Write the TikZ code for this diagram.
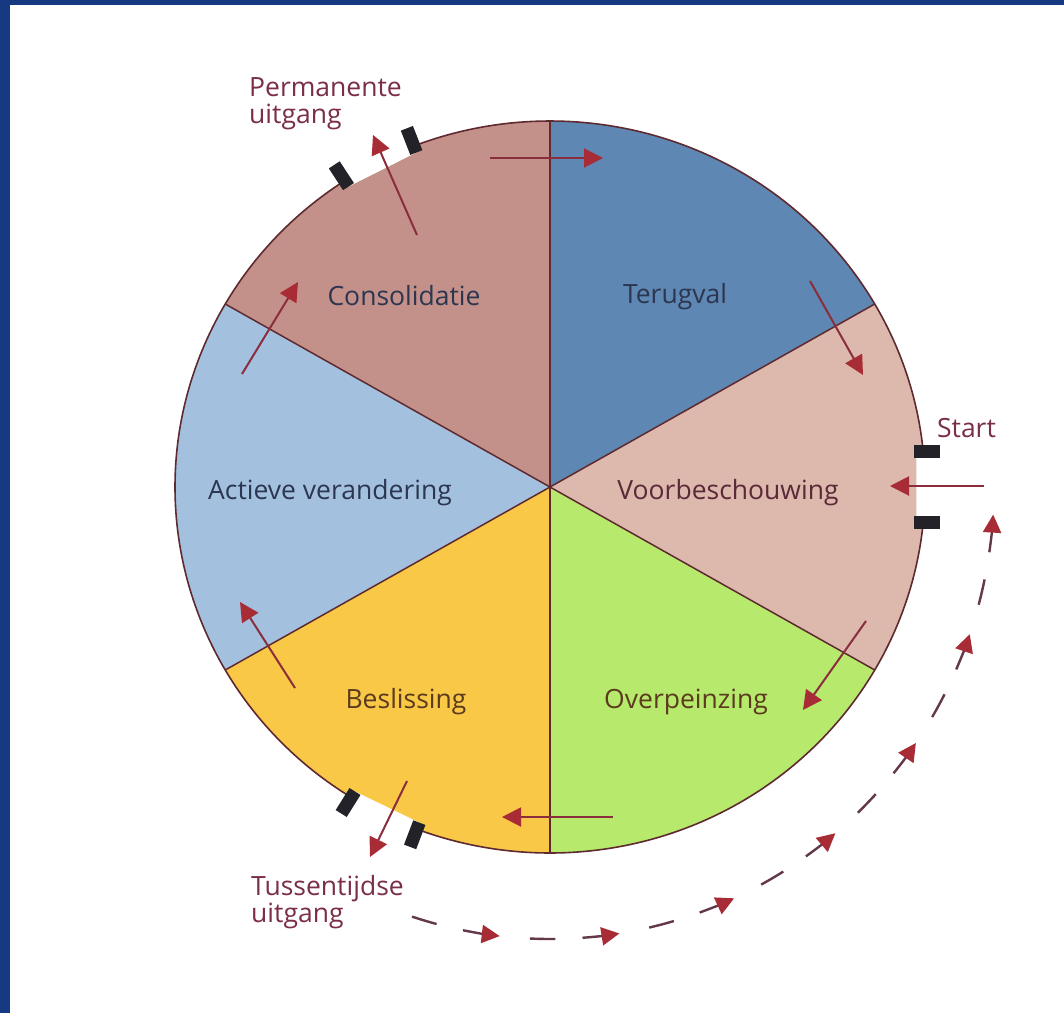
\documentclass[tikz,border=0pt]{standalone}
\usepackage{fontspec}
\setmainfont{Open Sans}
\usetikzlibrary{arrows.meta,calc}

\definecolor{framecol}{HTML}{163A82}
\definecolor{rimcol}{HTML}{5E2A30}
\definecolor{flowline}{HTML}{8A2D3C}
\definecolor{flowhead}{HTML}{A82C36}
\definecolor{dashcol}{HTML}{63384A}
\definecolor{gatecol}{HTML}{222228}
\definecolor{terugcol}{HTML}{5E87B3}
\definecolor{voorcol}{HTML}{DCB8AD}
\definecolor{overcol}{HTML}{B6E96C}
\definecolor{beslcol}{HTML}{F8C846}
\definecolor{actcol}{HTML}{A3C1DF}
\definecolor{conscol}{HTML}{C4918A}
\definecolor{navytext}{HTML}{2C3650}
\definecolor{maroontext}{HTML}{5A2A38}
\definecolor{browntext}{HTML}{5B3A1E}
\definecolor{exittext}{HTML}{7A2E47}

\begin{document}
\begin{tikzpicture}[x=1pt,y=1pt,
  rim/.style={draw=rimcol, line width=1.6pt},
  divider/.style={draw=rimcol, line width=1.5pt},
  stagelabel/.style={font=\fontsize{26.5}{28}\selectfont, inner sep=0pt, anchor=base},
  exitlabel/.style={font=\fontsize{26.5}{27}\selectfont, text=exittext, inner sep=0pt, anchor=base west, align=left},
  flow/.style={draw=flowline, line width=2pt,
    -{Triangle[length=19pt,width=19pt,color=flowhead]}},
  dashpiece/.style={draw=dashcol, line width=2.4pt},
  dashflow/.style={draw=dashcol, line width=2.4pt,
    -{Triangle[length=18pt,width=18pt,color=flowhead]}},
  gatemark/.style={rectangle, fill=gatecol, minimum width=26pt, minimum height=13pt, inner sep=0pt},
  wheelarc/.style={x radius=375pt, y radius=366pt},
  returnarc/.style={x radius=444pt, y radius=452pt}
]

% page, frame edges
\useasboundingbox (-550,-526) rectangle (514,487);
\fill[white] (-550,-526) rectangle (514,487);
\fill[framecol] (-550,-526) rectangle (-540,487);
\fill[framecol] (-550,482) rectangle (514,487);

% six sectors of the wheel
\fill[terugcol] (0,0) -- (30:375pt and 366pt) arc[start angle=30,end angle=90,wheelarc] -- cycle;
\fill[conscol] (0,0) -- (90:375pt and 366pt) arc[start angle=90,end angle=150,wheelarc] -- cycle;
\fill[actcol] (0,0) -- (150:375pt and 366pt) arc[start angle=150,end angle=210,wheelarc] -- cycle;
\fill[beslcol] (0,0) -- (210:375pt and 366pt) arc[start angle=210,end angle=270,wheelarc] -- cycle;
\fill[overcol] (0,0) -- (270:375pt and 366pt) arc[start angle=270,end angle=330,wheelarc] -- cycle;
\fill[voorcol] (0,0) -- (330:375pt and 366pt) arc[start angle=330,end angle=390,wheelarc] -- cycle;

% openings in the rim (permanent exit, interim exit, start)
\foreach \a/\b in {111.3/123.2, 238/249.2, -5.5/5.5}{
  \fill[white] ($(\a:375pt and 366pt)+(\a:-7pt)$) -- ($(\b:375pt and 366pt)+(\b:-7pt)$)
    -- ($(\b:375pt and 366pt)+(\b:40pt)$) -- ($(\a:375pt and 366pt)+(\a:40pt)$) -- cycle;
}

% dividers and rim
\draw[divider] (90:375pt and 366pt) -- (270:375pt and 366pt);
\draw[divider] (30:375pt and 366pt) -- (210:375pt and 366pt);
\draw[divider] (150:375pt and 366pt) -- (330:375pt and 366pt);
\draw[rim] (5.5:375pt and 366pt) arc[start angle=5.5,end angle=111.3,wheelarc];
\draw[rim] (123.2:375pt and 366pt) arc[start angle=123.2,end angle=238,wheelarc];
\draw[rim] (249.2:375pt and 366pt) arc[start angle=249.2,end angle=354.5,wheelarc];

% gate posts
\node[gatemark, rotate=111.3] (permA) at ($(111.3:375pt and 366pt)+(111.3:6pt)$) {};
\node[gatemark, rotate=123.2] (permB) at ($(123.2:375pt and 366pt)+(123.2:6pt)$) {};
\node[gatemark, rotate=238] (tussA) at ($(238:375pt and 366pt)+(238:6pt)$) {};
\node[gatemark, rotate=249.2] (tussB) at ($(249.2:375pt and 366pt)+(249.2:6pt)$) {};
\node[gatemark] (startA) at ($(5.5:375pt and 366pt)+(4pt,0)$) {};
\node[gatemark] (startB) at ($(-5.5:375pt and 366pt)+(4pt,0)$) {};

% stage names
\node[stagelabel, text=navytext] (terugval) at (125,184) {Terugval};
\node[stagelabel, text=maroontext] (voorbesch) at (178,-12) {Voorbeschouwing};
\node[stagelabel, text=browntext] (overpeinz) at (136,-221) {Overpeinzing};
\node[stagelabel, text=browntext] (beslissing) at (-144,-221) {Beslissing};
\node[stagelabel, text=navytext] (actieve) at (-220,-12) {Actieve verandering};
\node[stagelabel, text=navytext] (consol) at (-146,182) {Consolidatie};

% exits and entry labels (anchored on the baseline of the last line)
\node[exitlabel] (permlabel) at (-301,364) {Permanente\\uitgang};
\node[exitlabel] (tusslabel) at (-299,-435) {Tussentijdse\\uitgang};
\node[stagelabel, text=exittext] (startlabel) at (416.5,50) {Start};

% arrow end points
\coordinate (f1s) at (-60,329);  \coordinate (f1e) at (53,329);
\coordinate (f2s) at (260,206);  \coordinate (f2e) at (313,112);
\coordinate (f3s) at (316,-134); \coordinate (f3e) at (253,-223);
\coordinate (f4s) at (63,-330);  \coordinate (f4e) at (-48,-330);
\coordinate (f5s) at (-255,-201); \coordinate (f5e) at (-310,-115);
\coordinate (f6s) at (-308,113); \coordinate (f6e) at (-252,205);
\coordinate (pms) at (-133,252); \coordinate (pme) at (-177,352);
\coordinate (tss) at (-143,-294); \coordinate (tse) at (-180,-370);
\coordinate (sts) at (434,1);    \coordinate (ste) at (340,1);

% cycle arrows
\draw[flow] (f1s) -- (f1e);
\draw[flow] (f2s) -- (f2e);
\draw[flow] (f3s) -- (f3e);
\draw[flow] (f4s) -- (f4e);
\draw[flow] (f5s) -- (f5e);
\draw[flow] (f6s) -- (f6e);
\draw[flow] (pms) -- (pme);
\draw[flow] (tss) -- (tse);
\draw[flow] (sts) -- (ste);

% dashed return path from the interim exit back to the start
\foreach \t in {-96.5,-81,-65.5,-50,-34.5,-19,-3.5}{
  \pgfmathsetmacro{\pa}{\t-11.6}
  \pgfmathsetmacro{\pb}{\t-8.3}
  \pgfmathsetmacro{\pc}{\t-4.8}
  \draw[dashpiece] (\pa:444pt and 452pt) arc[start angle=\pa,end angle=\pb,returnarc];
  \draw[dashflow] (\pc:444pt and 452pt) arc[start angle=\pc,end angle=\t,returnarc];
}
\end{tikzpicture}
\end{document}
